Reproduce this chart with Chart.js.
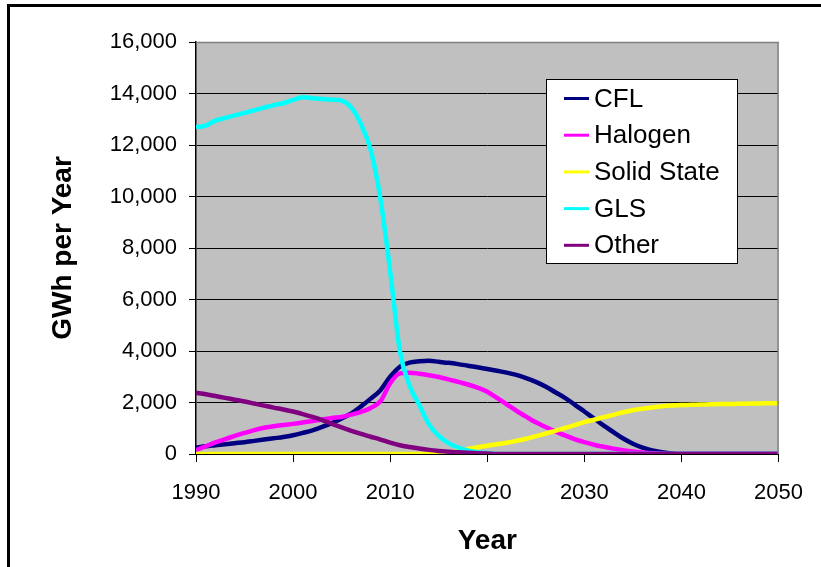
<!DOCTYPE html>
<html>
<head>
<meta charset="utf-8">
<script src="https://cdn.jsdelivr.net/npm/chart.js@4/dist/chart.umd.min.js"></script>
<style>
  html, body { margin: 0; padding: 0; background: #fff; }
  #wrap { width: 821px; height: 567px; position: relative; }
</style>
</head>
<body>
<div id="wrap"><canvas id="c" width="821" height="567"></canvas></div>
<script>
// Annual lighting energy use by lamp technology, GWh per year
const years = [
  1990, 1991, 1992, 1993, 1994, 1995, 1996, 1997, 1998, 1999,
  2000, 2001, 2002, 2003, 2004, 2005, 2006, 2007, 2008, 2009,
  2010, 2011, 2012, 2013, 2014, 2015, 2016, 2017, 2018, 2019,
  2020, 2021, 2022, 2023, 2024, 2025, 2026, 2027, 2028, 2029,
  2030, 2031, 2032, 2033, 2034, 2035, 2036, 2037, 2038, 2039,
  2040, 2041, 2042, 2043, 2044, 2045, 2046, 2047, 2048, 2049,
  2050
];

const cfl = [
  250, 300, 340, 380, 420, 460, 510, 560, 610, 660,
  730, 820, 920, 1050, 1200, 1380, 1580, 1850, 2150, 2480,
  3000, 3390, 3550, 3600, 3620, 3580, 3540, 3490, 3430, 3370,
  3300, 3230, 3160, 3070, 2950, 2800, 2620, 2400, 2180, 1920,
  1650, 1380, 1100, 850, 600, 400, 250, 140, 70, 20,
  0, 0, 0, 0, 0, 0, 0, 0, 0, 0,
  0
];

const halogen = [
  150, 300, 450, 580, 700, 820, 930, 1020, 1080, 1130,
  1170, 1220, 1280, 1340, 1400, 1440, 1530, 1640, 1790, 2050,
  2750, 3130, 3160, 3120, 3060, 2990, 2900, 2800, 2700, 2580,
  2420, 2180, 1930, 1680, 1450, 1230, 1050, 880, 720, 580,
  460, 360, 280, 210, 150, 100, 60, 30, 10, 0,
  0, 0, 0, 0, 0, 0, 0, 0, 0, 0,
  0
];

const solidState = [
  0, 0, 0, 0, 0, 0, 0, 0, 0, 0,
  0, 0, 0, 0, 0, 0, 0, 0, 0, 0,
  0, 0, 0, 0, 0, 20, 60, 120, 190, 260,
  320, 380, 440, 510, 590, 690, 790, 900, 1010, 1120,
  1240, 1330, 1430, 1520, 1620, 1700, 1760, 1810, 1850, 1880,
  1900, 1910, 1920, 1930, 1940, 1945, 1950, 1960, 1965, 1970,
  1975
];

const gls = [
  12700, 12750, 12950, 13050, 13150, 13250, 13350, 13450, 13550, 13620,
  13750, 13850, 13820, 13790, 13760, 13720, 13450, 12800, 11800, 9900,
  7100, 4000, 2650, 1900, 1150, 700, 420, 250, 140, 70,
  30, 0, 0, 0, 0, 0, 0, 0, 0, 0,
  0, 0, 0, 0, 0, 0, 0, 0, 0, 0,
  0, 0, 0, 0, 0, 0, 0, 0, 0, 0,
  0
];

const other = [
  2380, 2320, 2250, 2180, 2110, 2040, 1960, 1880, 1800, 1730,
  1650, 1550, 1440, 1320, 1170, 1030, 900, 780, 670, 560,
  440, 340, 270, 210, 160, 120, 90, 65, 45, 30,
  15, 0, 0, 0, 0, 0, 0, 0, 0, 0,
  0, 0, 0, 0, 0, 0, 0, 0, 0, 0,
  0, 0, 0, 0, 0, 0, 0, 0, 0, 0,
  0
];

const seriesNames = ['CFL', 'Halogen', 'Solid State', 'GLS', 'Other'];
const seriesColors = ['#000080', '#FF00FF', '#FFFF00', '#00FFFF', '#800080'];
const seriesValues = [cfl, halogen, solidState, gls, other];

const xTicks = [1990, 2000, 2010, 2020, 2030, 2040, 2050];
const yTicks = [0, 2000, 4000, 6000, 8000, 10000, 12000, 14000, 16000];

const FONT = "'Liberation Sans', Arial, sans-serif";

const datasets = seriesNames.map((name, i) => ({
  label: name,
  data: years.map((yr, k) => ({ x: yr, y: seriesValues[i][k] })),
  borderColor: seriesColors[i],
  backgroundColor: seriesColors[i],
  borderWidth: 4.5,
  pointRadius: 0,
  fill: false,
  cubicInterpolationMode: 'monotone',
  // later series are painted over earlier ones
  order: seriesNames.length - i
}));

// Outer frame, grey plot background and plot border
const framePlugin = {
  id: 'frame',
  beforeDraw(chart) {
    const { ctx, chartArea: a } = chart;
    ctx.save();
    ctx.fillStyle = '#ffffff';
    ctx.fillRect(0, 0, chart.width, chart.height);
    ctx.fillStyle = '#000000';
    ctx.fillRect(7, 4, chart.width - 7, 3);
    ctx.fillRect(7, 4, 3, chart.height - 4);
    ctx.fillStyle = '#C0C0C0';
    ctx.fillRect(a.left, a.top, a.right - a.left, a.bottom - a.top);
    ctx.restore();
  },
  afterDatasetsDraw(chart) {
    const { ctx, chartArea: a } = chart;
    ctx.save();
    ctx.strokeStyle = '#808080';
    ctx.lineWidth = 1.5;
    ctx.beginPath();
    ctx.moveTo(a.left, a.top + 0.5);
    ctx.lineTo(a.right - 0.5, a.top + 0.5);
    ctx.lineTo(a.right - 0.5, a.bottom);
    ctx.stroke();
    ctx.restore();
  }
};

// Boxed legend placed inside the plot
const boxLegend = {
  id: 'boxLegend',
  afterDraw(chart) {
    const { ctx } = chart;
    const box = { x: 546.5, y: 79.5, w: 191, h: 184 };
    const rowH = 36.7;
    ctx.save();
    ctx.fillStyle = '#ffffff';
    ctx.fillRect(box.x, box.y, box.w, box.h);
    ctx.strokeStyle = '#000000';
    ctx.lineWidth = 1;
    ctx.strokeRect(box.x, box.y, box.w, box.h);
    ctx.font = '26px ' + FONT;
    ctx.textBaseline = 'middle';
    ctx.textAlign = 'left';
    chart.data.datasets.forEach((ds, i) => {
      const cy = 98.5 + i * rowH;
      ctx.strokeStyle = ds.borderColor;
      ctx.lineWidth = 3;
      ctx.beginPath();
      ctx.moveTo(564, cy);
      ctx.lineTo(589, cy);
      ctx.stroke();
      ctx.fillStyle = '#000000';
      ctx.fillText(ds.label, 594, cy + 1);
    });
    ctx.restore();
  }
};

new Chart(document.getElementById('c'), {
  type: 'line',
  data: { datasets },
  plugins: [framePlugin, boxLegend],
  options: {
    responsive: false,
    animation: false,
    devicePixelRatio: 1,
    layout: { padding: { left: 0, top: 42, right: 42, bottom: 0 } },
    plugins: {
      legend: { display: false },
      tooltip: { enabled: false }
    },
    scales: {
      x: {
        type: 'linear',
        min: 1990,
        max: 2050,
        afterFit(scale) { scale.height = 113; },
        afterBuildTicks(scale) { scale.ticks = xTicks.map(v => ({ value: v })); },
        ticks: {
          color: '#000',
          font: { family: FONT, size: 22 },
          padding: 18,
          maxRotation: 0,
          callback: v => String(v)
        },
        grid: {
          drawOnChartArea: false,
          drawTicks: true,
          tickLength: 8,
          tickColor: '#000',
          lineWidth: 1
        },
        border: { display: true, color: '#000', width: 1 },
        title: {
          display: true,
          text: 'Year',
          color: '#000',
          font: { family: FONT, size: 28, weight: 'bold' },
          padding: { top: 0, bottom: 9 }
        }
      },
      y: {
        min: 0,
        max: 16000,
        afterFit(scale) { scale.width = 196; },
        afterBuildTicks(scale) { scale.ticks = yTicks.map(v => ({ value: v })); },
        ticks: {
          color: '#000',
          font: { family: FONT, size: 22 },
          padding: 12,
          callback: v => v.toLocaleString('en-US')
        },
        grid: {
          color: ctx => (ctx.tick && ctx.tick.value === 16000) ? '#808080' : '#000000',
          tickColor: '#000',
          tickLength: 7,
          lineWidth: 1
        },
        border: { display: true, color: '#000', width: 1.5 },
        title: {
          display: true,
          text: 'GWh per Year',
          color: '#000',
          font: { family: FONT, size: 28, weight: 'bold' },
          padding: { top: 46, bottom: 0 }
        }
      }
    }
  }
});
</script>
</body>
</html>
